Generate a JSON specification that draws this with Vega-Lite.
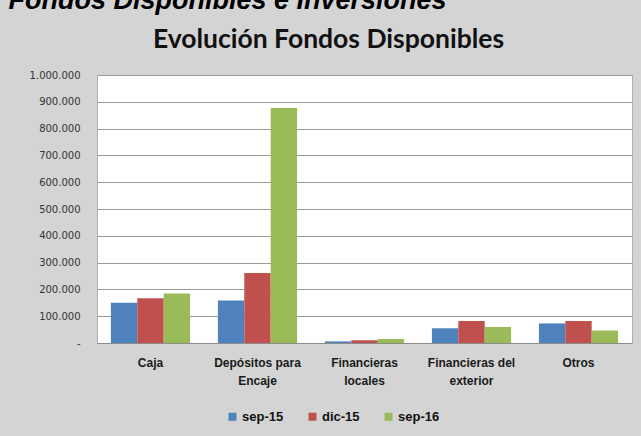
{
  "$schema": "https://vega.github.io/schema/vega-lite/v6.json",
  "autosize": {"type": "none"},
  "width": 535,
  "height": 268,
  "padding": {"left": 97, "top": 75, "right": 9, "bottom": 93},
  "background": "#d4d4d4",
  "title": {
    "text": "Evolución Fondos Disponibles",
    "anchor": "middle",
    "dx": -36,
    "dy": 113,
    "font": "Lato",
    "fontSize": 26.5,
    "fontWeight": "bold",
    "color": "#111111",
    "baseline": "alphabetic",
    "offset": 25
  },
  "data": {
    "values": [
      {"categoria": "Caja", "periodo": "sep-15", "valor": 150000},
      {"categoria": "Caja", "periodo": "dic-15", "valor": 167000},
      {"categoria": "Caja", "periodo": "sep-16", "valor": 185000},
      {"categoria": "Depósitos para Encaje", "periodo": "sep-15", "valor": 159000},
      {"categoria": "Depósitos para Encaje", "periodo": "dic-15", "valor": 261000},
      {"categoria": "Depósitos para Encaje", "periodo": "sep-16", "valor": 877000},
      {"categoria": "Financieras locales", "periodo": "sep-15", "valor": 6000},
      {"categoria": "Financieras locales", "periodo": "dic-15", "valor": 10000},
      {"categoria": "Financieras locales", "periodo": "sep-16", "valor": 15000},
      {"categoria": "Financieras del exterior", "periodo": "sep-15", "valor": 55000},
      {"categoria": "Financieras del exterior", "periodo": "dic-15", "valor": 82000},
      {"categoria": "Financieras del exterior", "periodo": "sep-16", "valor": 60000},
      {"categoria": "Otros", "periodo": "sep-15", "valor": 73000},
      {"categoria": "Otros", "periodo": "dic-15", "valor": 82000},
      {"categoria": "Otros", "periodo": "sep-16", "valor": 47000}
    ]
  },
  "mark": {"type": "bar"},
  "encoding": {
    "x": {
      "field": "categoria",
      "type": "nominal",
      "sort": ["Caja", "Depósitos para Encaje", "Financieras locales", "Financieras del exterior", "Otros"],
      "scale": {"paddingInner": 0.26, "paddingOuter": 0.13},
      "axis": {
        "title": null,
        "labelAngle": 0,
        "ticks": false,
        "domainColor": "#8c8c8c",
        "labelFont": "Liberation Sans",
        "labelFontSize": 12,
        "labelFontWeight": "bold",
        "labelColor": "#1a1a1a",
        "labelPadding": 14,
        "labelLineHeight": 18,
        "labelBaseline": "top",
        "labelExpr": "datum.value == 'Depósitos para Encaje' ? ['Depósitos para', 'Encaje'] : datum.value == 'Financieras locales' ? ['Financieras', 'locales'] : datum.value == 'Financieras del exterior' ? ['Financieras del', 'exterior'] : datum.value"
      }
    },
    "xOffset": {"field": "periodo", "type": "nominal", "sort": ["sep-15", "dic-15", "sep-16"]},
    "y": {
      "field": "valor",
      "type": "quantitative",
      "scale": {"domain": [0, 1000000]},
      "axis": {
        "values": [0, 100000, 200000, 300000, 400000, 500000, 600000, 700000, 800000, 900000, 1000000],
        "format": ",d",
        "labelExpr": "datum.value == 0 ? '-' : datum.label",
        "domain": false,
        "ticks": false,
        "labelPadding": 17,
        "labelFont": "DejaVu Sans",
        "labelFontSize": 10,
        "labelColor": "#333333",
        "gridColor": "#9a9a9a",
        "gridWidth": 1,
        "title": "Fondos Disponibles e Inversiones",
        "titleAngle": 0,
        "titleX": -89,
        "titleY": -67,
        "titleAlign": "left",
        "titleBaseline": "alphabetic",
        "titleFont": "Liberation Sans",
        "titleFontSize": 27,
        "titleFontStyle": "italic",
        "titleFontWeight": "bold",
        "titleColor": "#000000"
      }
    },
    "color": {
      "field": "periodo",
      "type": "nominal",
      "sort": ["sep-15", "dic-15", "sep-16"],
      "scale": {"domain": ["sep-15", "dic-15", "sep-16"], "range": ["#4F81BD", "#C0504D", "#9BBB59"]},
      "legend": {
        "title": null,
        "orient": "none",
        "direction": "horizontal",
        "legendX": 129,
        "legendY": 335,
        "symbolType": "square",
        "symbolSize": 64,
        "symbolStrokeWidth": 0,
        "labelFont": "Liberation Sans",
        "labelFontSize": 13,
        "labelFontWeight": "bold",
        "labelColor": "#111111",
        "labelOffset": 3,
        "columnPadding": 22
      }
    }
  },
  "config": {
    "locale": {"number": {"decimal": ",", "thousands": ".", "grouping": [3], "currency": ["$", ""]}},
    "view": {"fill": "white", "stroke": "#b0b0b0"}
  }
}
